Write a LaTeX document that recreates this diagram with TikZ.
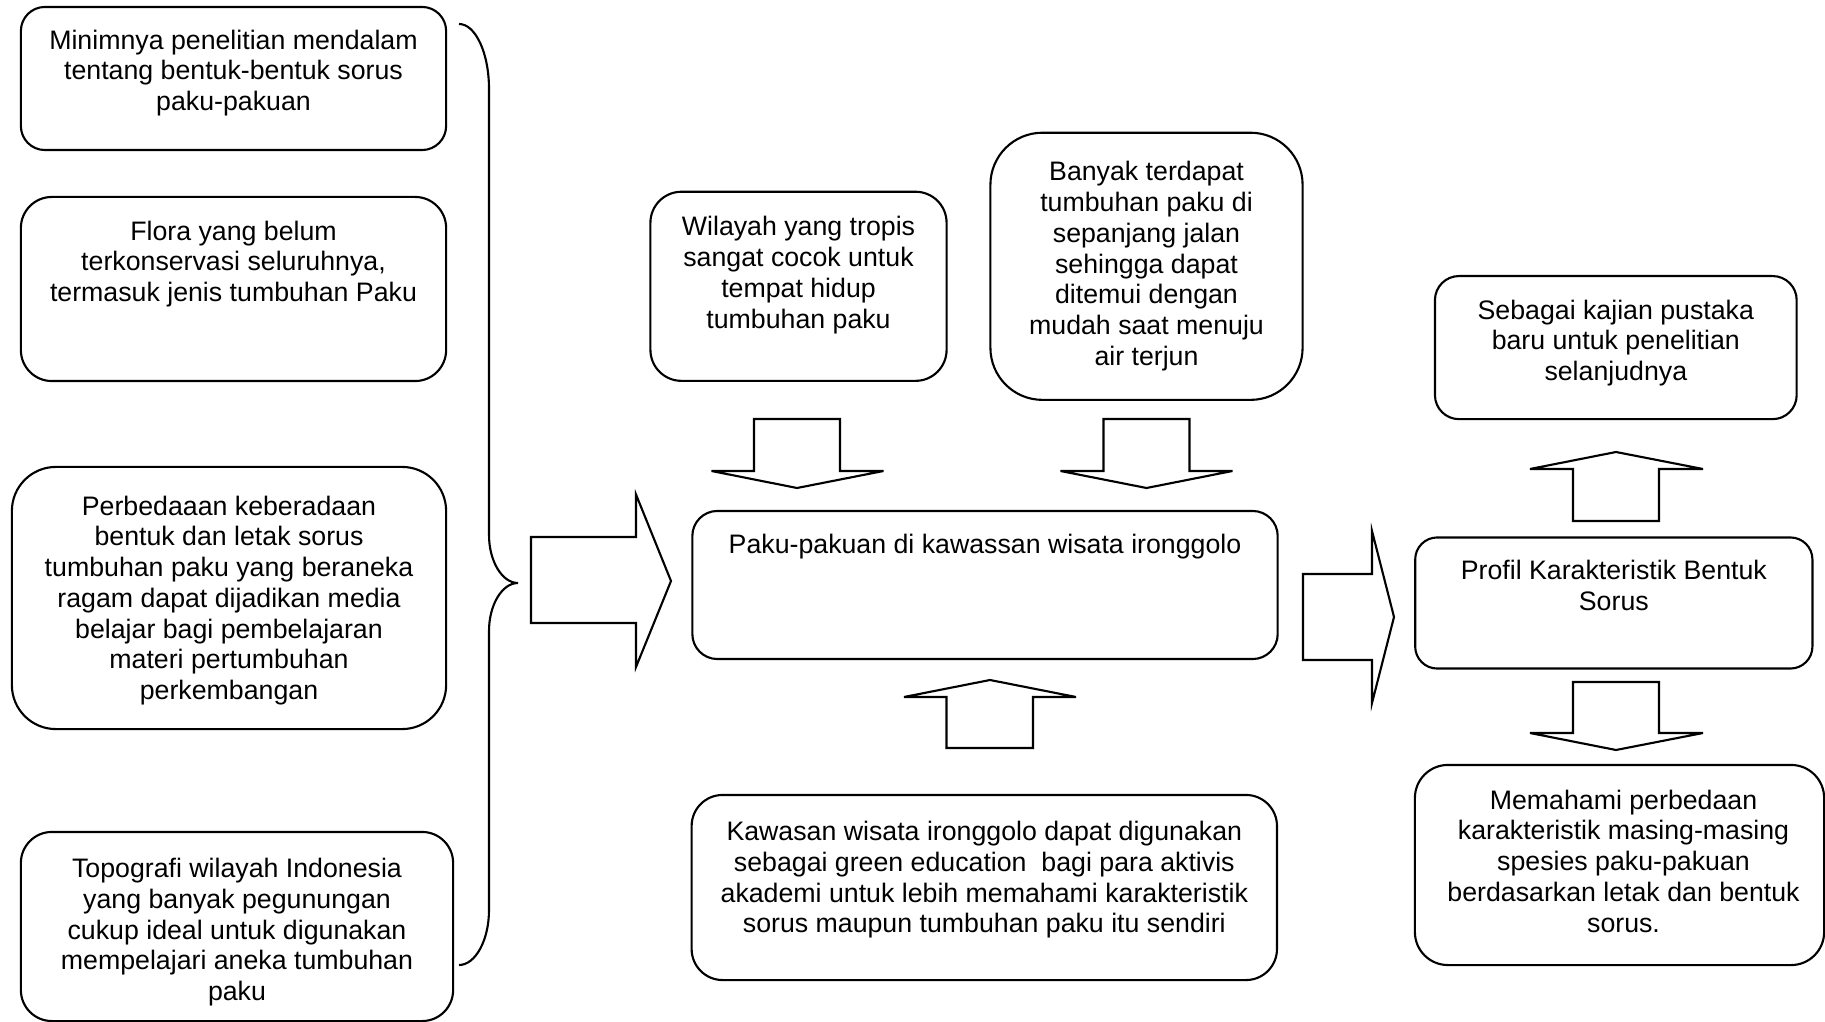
\documentclass[tikz,border=0pt]{standalone}
\usepackage{fontspec}
\setmainfont{Liberation Sans}
\usetikzlibrary{positioning}
\newdimen\jarak
\jarak=0.22cm
\tikzstyle{kotak}=[
  draw=black,
  line width=.6pt,
  rectangle,
  inner sep=0pt,
  outer sep=0pt,
]
\tikzstyle{teks}=[
  font={\fontsize{7.6}{8.75}\selectfont},
  align=center,
  inner sep=0pt,
]
\tikzstyle{blok}=[
  draw=black,
  line width=.6pt,
  line join=miter,
]
\begin{document}
\begin{tikzpicture}[x=0.01cm,y=-0.01cm]
  \useasboundingbox (0,0) rectangle (1825,1022);
  %% kotak kiri
  \node (masalah1) [kotak, minimum width=4.25cm, minimum height=1.43cm, rounded corners=.24cm] at (233.5,78.5) {};
  \node (tmasalah1) [teks, below=\jarak of masalah1.north] {Minimnya penelitian mendalam\\tentang bentuk-bentuk sorus\\paku-pakuan};
  \node (masalah2) [kotak, minimum width=4.25cm, minimum height=1.84cm, rounded corners=.31cm] at (233.5,289) {};
  \node (tmasalah2) [teks, below=\jarak of masalah2.north, yshift=-.01cm] {Flora yang belum\\terkonservasi seluruhnya,\\termasuk jenis tumbuhan Paku};
  \node (masalah3) [kotak, minimum width=4.34cm, minimum height=2.62cm, rounded corners=.44cm] at (229,598) {};
  \node (tmasalah3) [teks, below=\jarak of masalah3.north, yshift=-.06cm] {Perbedaaan keberadaan\\bentuk dan letak sorus\\tumbuhan paku yang beraneka\\ragam dapat dijadikan media\\belajar bagi pembelajaran\\materi pertumbuhan\\perkembangan};
  \node (masalah4) [kotak, minimum width=4.32cm, minimum height=1.89cm, rounded corners=.31cm] at (237,926.5) {};
  \node (tmasalah4) [teks, below=\jarak of masalah4.north, yshift=-.035cm] {Topografi wilayah Indonesia\\yang banyak pegunungan\\cukup ideal untuk digunakan\\mempelajari aneka tumbuhan\\paku};
  %% kurung kurawal
  \draw [blok] (459,24) .. controls (475.5,24) and (489,53) .. (489,89)
    -- (489,535) .. controls (489,561) and (502,583) .. (518,583)
    .. controls (502,583) and (489,605) .. (489,631)
    -- (489,910) .. controls (489,940) and (475.5,965) .. (459,965);
  \draw [blok] (531,537) -- (636,537) -- (636,494.5) -- (671,581) -- (636,667) -- (636,623) -- (531,623) -- cycle;
  %% kolom tengah
  \node (wilayah) [kotak, minimum width=2.96cm, minimum height=1.89cm, rounded corners=.31cm] at (798.5,286.3) {};
  \node (twilayah) [teks, below=\jarak of wilayah.north, yshift=-.02cm] {Wilayah yang tropis\\sangat cocok untuk\\tempat hidup\\tumbuhan paku};
  \node (banyak) [kotak, minimum width=3.12cm, minimum height=2.67cm, rounded corners=.52cm] at (1146.5,266.3) {};
  \node (tbanyak) [teks, below=\jarak of banyak.north, yshift=-.06cm] {Banyak terdapat\\tumbuhan paku di\\sepanjang jalan\\sehingga dapat\\ditemui dengan\\mudah saat menuju\\air terjun};
  \node (paku) [kotak, minimum width=5.85cm, minimum height=1.48cm, rounded corners=.25cm] at (985,585) {};
  \node (tpaku) [teks, below=\jarak of paku.north] {Paku-pakuan di kawassan wisata ironggolo};
  \node (kawasan) [kotak, minimum width=5.85cm, minimum height=1.85cm, rounded corners=.31cm] at (984.3,887.5) {};
  \node (tkawasan) [teks, below=\jarak of kawasan.north, yshift=-.035cm] {Kawasan wisata ironggolo dapat digunakan\\sebagai green education\ \ bagi para aktivis\\akademi untuk lebih memahami karakteristik\\sorus maupun tumbuhan paku itu sendiri};
  \draw [blok] (754,419) -- (840,419) -- (840,471) -- (883.5,471) -- (797,488) -- (711.5,471) -- (754,471) -- cycle;
  \draw [blok] (1103.5,419) -- (1189.5,419) -- (1189.5,471) -- (1232.5,471) -- (1146.5,488) -- (1060.5,471) -- (1103.5,471) -- cycle;
  \draw [blok] (946.5,748) -- (1033,748) -- (1033,697) -- (1076,697) -- (990,680) -- (904,697) -- (946.5,697) -- cycle;
  \draw [blok] (1303,574) -- (1372,574) -- (1372,531) -- (1394,617) -- (1372,703) -- (1372,660) -- (1303,660) -- cycle;
  %% kolom kanan
  \node (profil) [kotak, minimum width=3.97cm, minimum height=1.31cm, rounded corners=.22cm] at (1613.8,603) {};
  \node (tprofil) [teks, below=\jarak of profil.north] {Profil Karakteristik Bentuk\\Sorus};
  \node (kajian) [kotak, minimum width=3.615cm, minimum height=1.43cm, rounded corners=.24cm] at (1615.8,347.6) {};
  \node (tkajian) [teks, below=\jarak of kajian.north, yshift=-.01cm] {Sebagai kajian pustaka\\baru untuk penelitian\\selanjudnya};
  \node (paham) [kotak, minimum width=4.09cm, minimum height=2cm, rounded corners=.33cm] at (1619.5,865) {};
  \node (tpaham) [teks, below=\jarak of paham.north, xshift=.04cm, yshift=-.02cm] {Memahami perbedaan\\karakteristik masing-masing\\spesies paku-pakuan\\berdasarkan letak dan bentuk\\sorus.};
  \draw [blok] (1573,521) -- (1659,521) -- (1659,469) -- (1703,469) -- (1616,452) -- (1530,469) -- (1573,469) -- cycle;
  \draw [blok] (1573,682) -- (1659,682) -- (1659,733) -- (1703,733) -- (1616,750) -- (1530,733) -- (1573,733) -- cycle;
\end{tikzpicture}
\end{document}
